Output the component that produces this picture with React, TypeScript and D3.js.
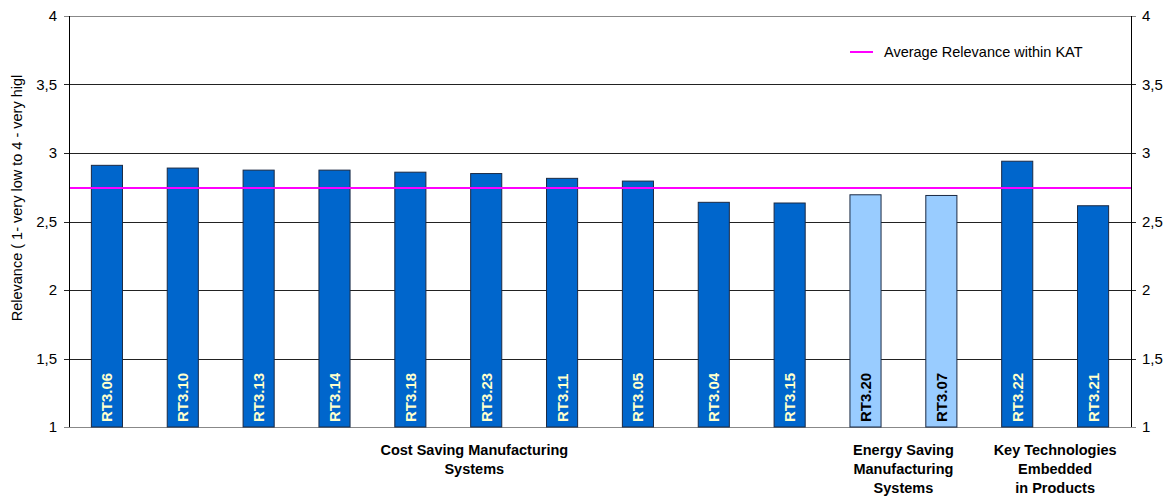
import React from "react";
import * as d3 from "d3";

const codes = ["RT3.06", "RT3.10", "RT3.13", "RT3.14", "RT3.18", "RT3.23", "RT3.11", "RT3.05", "RT3.04", "RT3.15", "RT3.20", "RT3.07", "RT3.22", "RT3.21"];
const relevance = [2.91, 2.89, 2.875, 2.875, 2.86, 2.85, 2.815, 2.795, 2.64, 2.635, 2.695, 2.69, 2.94, 2.615];
const energyGroup = [false, false, false, false, false, false, false, false, false, false, true, true, false, false];
const averageRelevance = 2.745;
const yTicks = [1, 1.5, 2, 2.5, 3, 3.5, 4];
const groupLabels = [
  ["Cost Saving Manufacturing", "Systems"],
  ["Energy Saving", "Manufacturing", "Systems"],
  ["Key Technologies", "Embedded", "in Products"],
];
const groupRanges = [[0, 9], [10, 11], [12, 13]];
const legendLabel = "Average Relevance within KAT";
const yTitle = "Relevance ( 1- very low to 4 - very higl";

const W = 1169;
const H = 498;
const margin = { top: 16, right: 38, bottom: 71, left: 69 };
const font = "'Liberation Sans', Arial, sans-serif";

export default function App() {
  const x = d3
    .scaleBand()
    .domain(codes)
    .range([margin.left, W - margin.right])
    .paddingInner(0.59)
    .paddingOuter(0.295);
  const y = d3.scaleLinear().domain([1, 4]).range([H - margin.bottom, margin.top]);
  const fmt = (v) => String(v).replace(".", ",");
  const bw = x.bandwidth();
  const x0 = margin.left;
  const x1 = W - margin.right;

  return (
    <svg width={W} height={H} style={{ position: "absolute", left: 0, top: 0, background: "#fff" }} fontFamily={font}>
      {/* gridlines */}
      {yTicks.map((t) => (
        <line key={"g" + t} x1={x0 - 5} x2={x1 + 5} y1={Math.round(y(t)) + 0.5} y2={Math.round(y(t)) + 0.5}
          stroke={t === 1 || t === 4 ? "#888" : "#222"} strokeWidth={1} />
      ))}
      {/* bars */}
      {codes.map((c, i) => (
        <rect key={c} x={x(c)} y={y(relevance[i])} width={bw} height={y(1) - y(relevance[i])}
          fill={energyGroup[i] ? "#99CCFF" : "#0066CC"} stroke="#1b2a44" strokeWidth={1} />
      ))}
      {/* bar labels */}
      {codes.map((c) => {
        const i = codes.indexOf(c);
        const cx = x(c) + bw / 2;
        return (
          <text key={"l" + c} transform={`translate(${cx + 5.5},${y(1) - 5}) rotate(-90)`}
            fontSize={15} fontWeight="bold" fill={energyGroup[i] ? "#000" : "#FFFFCC"}>{c}</text>
        );
      })}
      {/* average line */}
      <line x1={x0} x2={x1} y1={y(averageRelevance)} y2={y(averageRelevance)} stroke="#FF00FF" strokeWidth={2} />
      {/* axes */}
      <line x1={x0 + 0.5} x2={x0 + 0.5} y1={y(4)} y2={y(1)} stroke="#000" />
      <line x1={x1 + 0.5} x2={x1 + 0.5} y1={y(4)} y2={y(1)} stroke="#000" />
      {yTicks.map((t) => (
        <g key={"t" + t} fontSize={15} fill="#000">
          <text x={57} y={y(t) + 5} textAnchor="end">{fmt(t)}</text>
          <text x={1142} y={y(t) + 5}>{fmt(t)}</text>
        </g>
      ))}
      {/* y title */}
      <text transform={`translate(22,${198}) rotate(-90)`} textAnchor="middle" fontSize={14.5}>{yTitle}</text>
      {/* category groups */}
      {groupLabels.map((lines, gi) => {
        const [a, b] = groupRanges[gi];
        const cx = (x(codes[a]) + x(codes[b]) + bw) / 2 + (gi === 0 ? 26 : 0);
        return (
          <text key={"grp" + gi} textAnchor="middle" fontSize={14.5} fontWeight="bold">
            {lines.map((ln, li) => (
              <tspan key={li} x={cx} y={455 + li * 19}>{ln}</tspan>
            ))}
          </text>
        );
      })}
      {/* legend */}
      <line x1={850} x2={873} y1={52} y2={52} stroke="#FF00FF" strokeWidth={2} />
      <text x={884} y={57} fontSize={14.5}>{legendLabel}</text>
    </svg>
  );
}
